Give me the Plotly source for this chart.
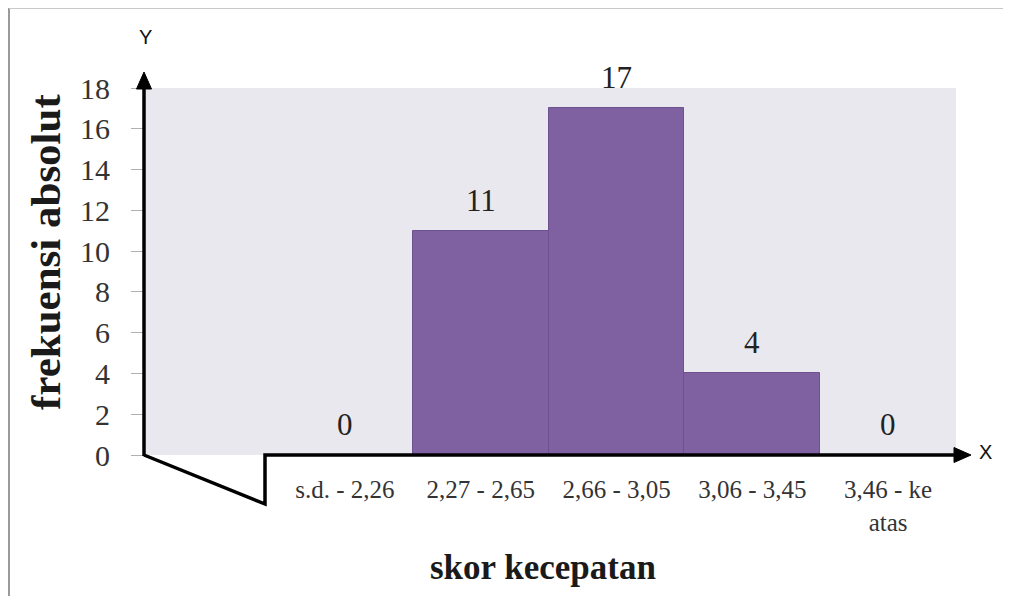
import plotly.graph_objects as go

categories = ["s.d. - 2,26", "2,27 - 2,65", "2,66 - 3,05", "3,06 - 3,45", "3,46 - ke<br>atas"]
frequencies = [0, 11, 17, 4, 0]
y_ticks = [0, 2, 4, 6, 8, 10, 12, 14, 16, 18]

OFF = 8  # page body margin
W, H = 1011 - OFF, 596 - OFF
L, R, T, B = 144 - OFF, 55, 88 - OFF, 141
PW = W - L - R
PH = H - T - B


def px(x):
    return (x - OFF - L) / PW


def py(y):
    return (T + PH - (y - OFF)) / PH


BAR = "#7F61A1"
SERIF = "Liberation Serif"

fig = go.Figure()
fig.add_trace(go.Bar(
    x=categories, y=frequencies, width=1.0,
    marker=dict(color=BAR, line=dict(color="#6E5290", width=1)),
    hoverinfo="skip", showlegend=False,
))

annotations = []
for c, v in zip(categories, frequencies):
    annotations.append(dict(x=c, y=v, xref="x", yref="y", text=str(v), showarrow=False,
                            xanchor="center", yanchor="bottom", yshift=11,
                            font=dict(family=SERIF, size=31, color="#222")))

annotations += [
    dict(x=px(145), y=py(37), xref="paper", yref="paper", text="Y", showarrow=False,
         xanchor="center", yanchor="middle",
         font=dict(family="Liberation Sans", size=20, color="#111")),
    dict(x=px(985), y=py(452), xref="paper", yref="paper", text="X", showarrow=False,
         xanchor="center", yanchor="middle",
         font=dict(family="Liberation Sans", size=20, color="#111")),
    dict(x=px(45), y=py(252), xref="paper", yref="paper", text="<b>frekuensi absolut</b>",
         showarrow=False, textangle=-90, xanchor="center", yanchor="middle",
         font=dict(family=SERIF, size=43, color="#1a1a1a")),
    dict(x=px(543), y=py(567), xref="paper", yref="paper", text="<b>skor kecepatan</b>",
         showarrow=False, xanchor="center", yanchor="middle",
         font=dict(family=SERIF, size=35, color="#1a1a1a")),
]

line_k = dict(color="black", width=3.5)
shapes = [
    # image border
    dict(type="line", xref="paper", yref="paper", x0=px(9), x1=px(9), y0=py(8), y1=py(600),
         line=dict(color="#9a9a9a", width=2)),
    dict(type="line", xref="paper", yref="paper", x0=px(9), x1=px(1011), y0=py(8), y1=py(8),
         line=dict(color="#c8c8c8", width=2)),
    # y axis line
    dict(type="line", xref="paper", yref="paper", x0=px(144), x1=px(144), y0=py(456), y1=py(86),
         line=line_k),
    # y arrow head
    dict(type="path", xref="paper", yref="paper",
         path=f"M {px(144)} {py(72)} L {px(136.5)} {py(89)} L {px(151.5)} {py(89)} Z",
         fillcolor="black", line=dict(color="black", width=1)),
    # bent baseline
    dict(type="path", xref="paper", yref="paper",
         path=f"M {px(144)} {py(455)} L {px(265)} {py(504)} L {px(265)} {py(455)} L {px(956)} {py(455)}",
         line=line_k),
    # x arrow head
    dict(type="path", xref="paper", yref="paper",
         path=f"M {px(971)} {py(455)} L {px(954)} {py(447.5)} L {px(954)} {py(462.5)} Z",
         fillcolor="black", line=dict(color="black", width=1)),
]

fig.update_layout(
    width=W, height=H,
    margin=dict(l=L, r=R, t=T, b=B, autoexpand=False),
    paper_bgcolor="white", plot_bgcolor="#E9E8EE",
    bargap=0,
    annotations=annotations, shapes=shapes,
    xaxis=dict(range=[-1.48, 4.5], showgrid=False, zeroline=False, showline=False,
               ticks="", ticklabelstandoff=17, fixedrange=True,
               tickfont=dict(family=SERIF, size=25, color="#333")),
    yaxis=dict(range=[0, 18], tickvals=y_ticks, showgrid=False, zeroline=False, showline=False,
               ticks="outside", ticklen=12, tickcolor="#b0b0b0", tickwidth=1,
               ticklabelstandoff=15, fixedrange=True,
               tickfont=dict(family=SERIF, size=30, color="#333")),
)

fig.write_html("out.html")
